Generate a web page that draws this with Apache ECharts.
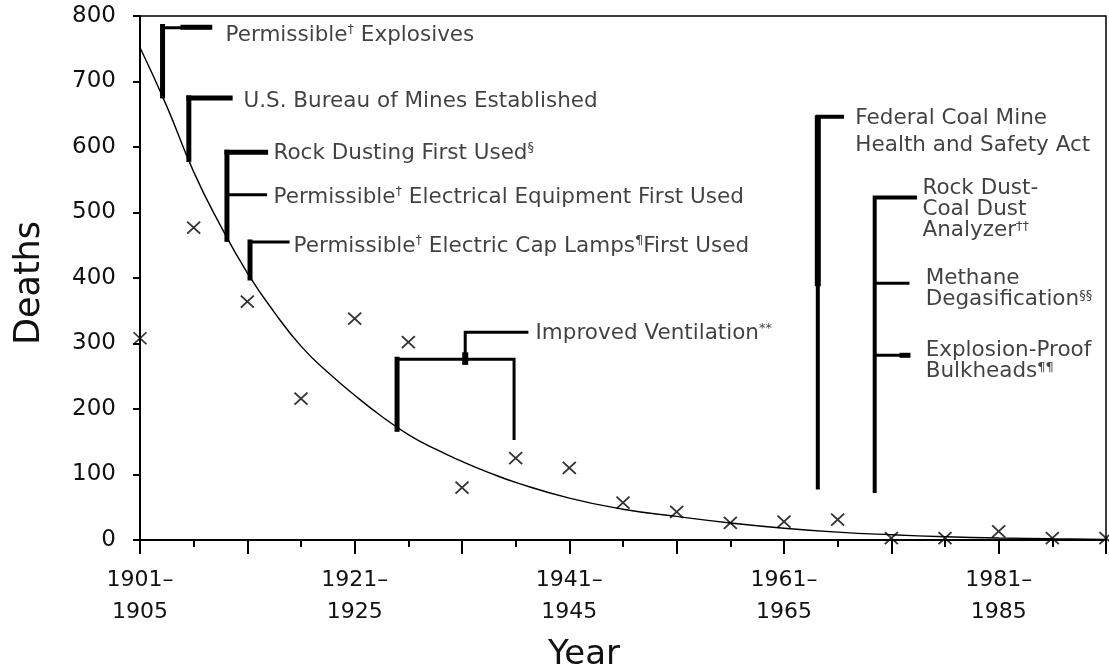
<!DOCTYPE html>
<html>
<head>
<meta charset="utf-8">
<script src="https://cdn.jsdelivr.net/npm/echarts@6/dist/echarts.min.js"></script>
<style>
html,body{margin:0;padding:0;background:#fff;}
#c{width:1109px;height:667px;}
</style>
</head>
<body>
<div id="c"></div>
<script>
// ---- data ----
const periods = ['1901–1905','1906–1910','1911–1915','1916–1920','1921–1925','1926–1930','1931–1935','1936–1940','1941–1945','1946–1950','1951–1955','1956–1960','1961–1965','1966–1970','1971–1975','1976–1980','1981–1985','1986–1990','1991–1995'];
const deaths = [308,477,364,216,338,302,80,125,110,57,43,26,28,31,3,3,13,3,3];
// fitted trend curve (x in period index units)
const trendX = [0,0.5,1,1.5,2,2.5,3,3.5,4,4.5,5,5.5,6,6.5,7,8,9,10,11,12,13,14,15,16,17,18];
const trendY = [752,662,562,480,408,348,296,256,221,189,161,139,120,103,88,64,47,36,26,18,12,8,5,3,2,1];
const yTicks = [0,100,200,300,400,500,600,700,800];

// annotation brackets in axis units [period index, deaths]
const bracketLines = [
  [[0.42,678],[0.42,784]],
  [[0.42,782],[1.30,782]],
  [[0.80,783],[1.30,783]],
  [[0.91,581],[0.91,675]],
  [[0.91,675],[1.68,675]],
  [[1.62,459],[1.62,592]],
  [[1.62,592],[2.34,592]],
  [[1.62,527],[2.34,527]],
  [[2.05,400],[2.05,455]],
  [[2.05,455],[2.76,455]],
  [[4.79,169],[4.79,276]],
  [[4.79,276],[6.97,276],[6.97,155]],
  [[6.06,276],[6.06,317],[7.21,317]],
  [[6.06,272],[6.06,282]],
  [[12.63,80],[12.63,646],[13.08,646]],
  [[12.63,392],[12.63,644]],
  [[13.69,75],[13.69,523],[14.44,523]],
  [[13.69,392],[14.31,392]],
  [[13.69,282],[14.31,282]],
  [[14.20,282],[14.31,282]]
];
const bracketWidths = [5,3,5,5,5,5,5,3,5,3,5,3,3,6,4,6,4,3,3,5];

// annotation texts and their anchor (left edge, vertical middle) in axis units
const noteTexts = [
  '{t|Permissible}{s|†}{t| Explosives}',
  '{t|U.S. Bureau of Mines Established}',
  '{t|Rock Dusting First Used}{s|§}',
  '{t|Permissible}{s|†}{t| Electrical Equipment First Used}',
  '{t|Permissible}{s|†}{t| Electric Cap Lamps}{s|¶}{t|First Used}',
  '{t|Improved Ventilation}{s|**}',
  '{f|Federal Coal Mine}\n{f|Health and Safety Act}',
  '{n|Rock Dust-}\n{n|Coal Dust}\n{n|Analyzer}{s|††}',
  '{n|Methane}\n{n|Degasification}{s|§§}',
  '{n|Explosion-Proof}\n{n|Bulkheads}{s|¶¶}'
];
const noteAnchors = [
  [1.584,771],[1.919,669],[2.478,590],[2.478,523],[2.851,448],
  [7.36,315],[13.32,623],[14.57,504],[14.63,383],[14.63,273]
];

// ---- chart ----
const FONT = 'DejaVu Sans';
const INK = '#111';
const chart = echarts.init(document.getElementById('c'), null, {renderer:'canvas'});

const baseX = {type:'value', min:0, max:18, position:'bottom', gridIndex:0,
  splitLine:{show:false}, axisLine:{onZero:false}};

const series = [];
series.push({
  type:'line', name:'trend', xAxisIndex:0, yAxisIndex:0,
  data: trendX.map((x,i)=>[x,trendY[i]]),
  smooth:0.5, showSymbol:false, symbol:'none',
  lineStyle:{color:'#000', width:1.4}, z:3, silent:true
});
series.push({
  type:'scatter', name:'deaths', xAxisIndex:0, yAxisIndex:0,
  data: deaths.map((v,i)=>[i,v]),
  symbol:'path://M0,0L10,10M10,0L0,10', symbolSize:[13,12],
  itemStyle:{color:'rgba(0,0,0,0)', borderColor:'#000', borderWidth:1.8},
  z:4, silent:true
});
bracketLines.forEach((pts,k)=>{
  series.push({
    type:'line', xAxisIndex:0, yAxisIndex:0, data: pts, symbol:'none', showSymbol:false,
    lineStyle:{color:'#000', width:bracketWidths[k], cap:'square', join:'miter'},
    z:5, silent:true, animation:false, clip:false
  });
});
series.push({
  type:'scatter', xAxisIndex:0, yAxisIndex:0, symbolSize:1,
  itemStyle:{color:'rgba(0,0,0,0)'}, z:6, silent:true,
  data: noteAnchors.map((a,k)=>({value:a, label:{formatter:noteTexts[k]}})),
  label:{show:true, position:'right', distance:0, align:'left', verticalAlign:'middle',
    rich:{
      t:{fontFamily:FONT, fontSize:21.5, color:INK, lineHeight:24},
      f:{fontFamily:FONT, fontSize:21.5, color:INK, lineHeight:27},
      n:{fontFamily:FONT, fontSize:21.5, color:INK, lineHeight:21},
      s:{fontFamily:FONT, fontSize:13, color:INK, lineHeight:12, verticalAlign:'top'}
    }
  }
});

chart.setOption({
  animation:false,
  backgroundColor:'#fff',
  grid:{left:140, right:3, top:16, bottom:127, containLabel:false, outerBoundsMode:'none',
    show:true, borderColor:'#000', borderWidth:1.5, backgroundColor:'transparent'},
  xAxis:[
    Object.assign({}, baseX, {
      interval:4,
      name:'Year', nameLocation:'middle', nameGap:98,
      nameTextStyle:{fontFamily:FONT, fontSize:34, color:INK, padding:[0,78,0,0]},
      axisLine:{show:true, onZero:false, lineStyle:{color:'#000', width:2}},
      axisTick:{show:false},
      axisLabel:{show:true, margin:24, fontFamily:FONT, fontSize:22, color:INK, lineHeight:32,
        showMaxLabel:false,
        formatter:v => (v % 4 === 0 && periods[v]) ? periods[v].replace('–','–\n') : ''}
    }),
    Object.assign({}, baseX, {
      interval:2,
      axisLine:{show:false, onZero:false}, axisLabel:{show:false},
      axisTick:{show:true, length:14, lineStyle:{color:'#000', width:2}}
    }),
    Object.assign({}, baseX, {
      interval:1,
      axisLine:{show:false, onZero:false}, axisLabel:{show:false},
      axisTick:{show:true, length:7, lineStyle:{color:'#000', width:2}}
    })
  ],
  yAxis:[{
    type:'value', min:yTicks[0], max:yTicks[yTicks.length-1], interval:yTicks[1]-yTicks[0],
    splitLine:{show:false},
    name:'Deaths', nameLocation:'middle', nameGap:93, nameRotate:90,
    nameTextStyle:{fontFamily:FONT, fontSize:35, color:INK, padding:[0,10,0,0]},
    axisLine:{show:true, lineStyle:{color:'#000', width:2}},
    axisTick:{show:true, length:7, lineStyle:{color:'#000', width:2}},
    axisLabel:{margin:24, fontFamily:FONT, fontSize:23, color:INK}
  }],
  series: series
});
</script>
</body>
</html>
